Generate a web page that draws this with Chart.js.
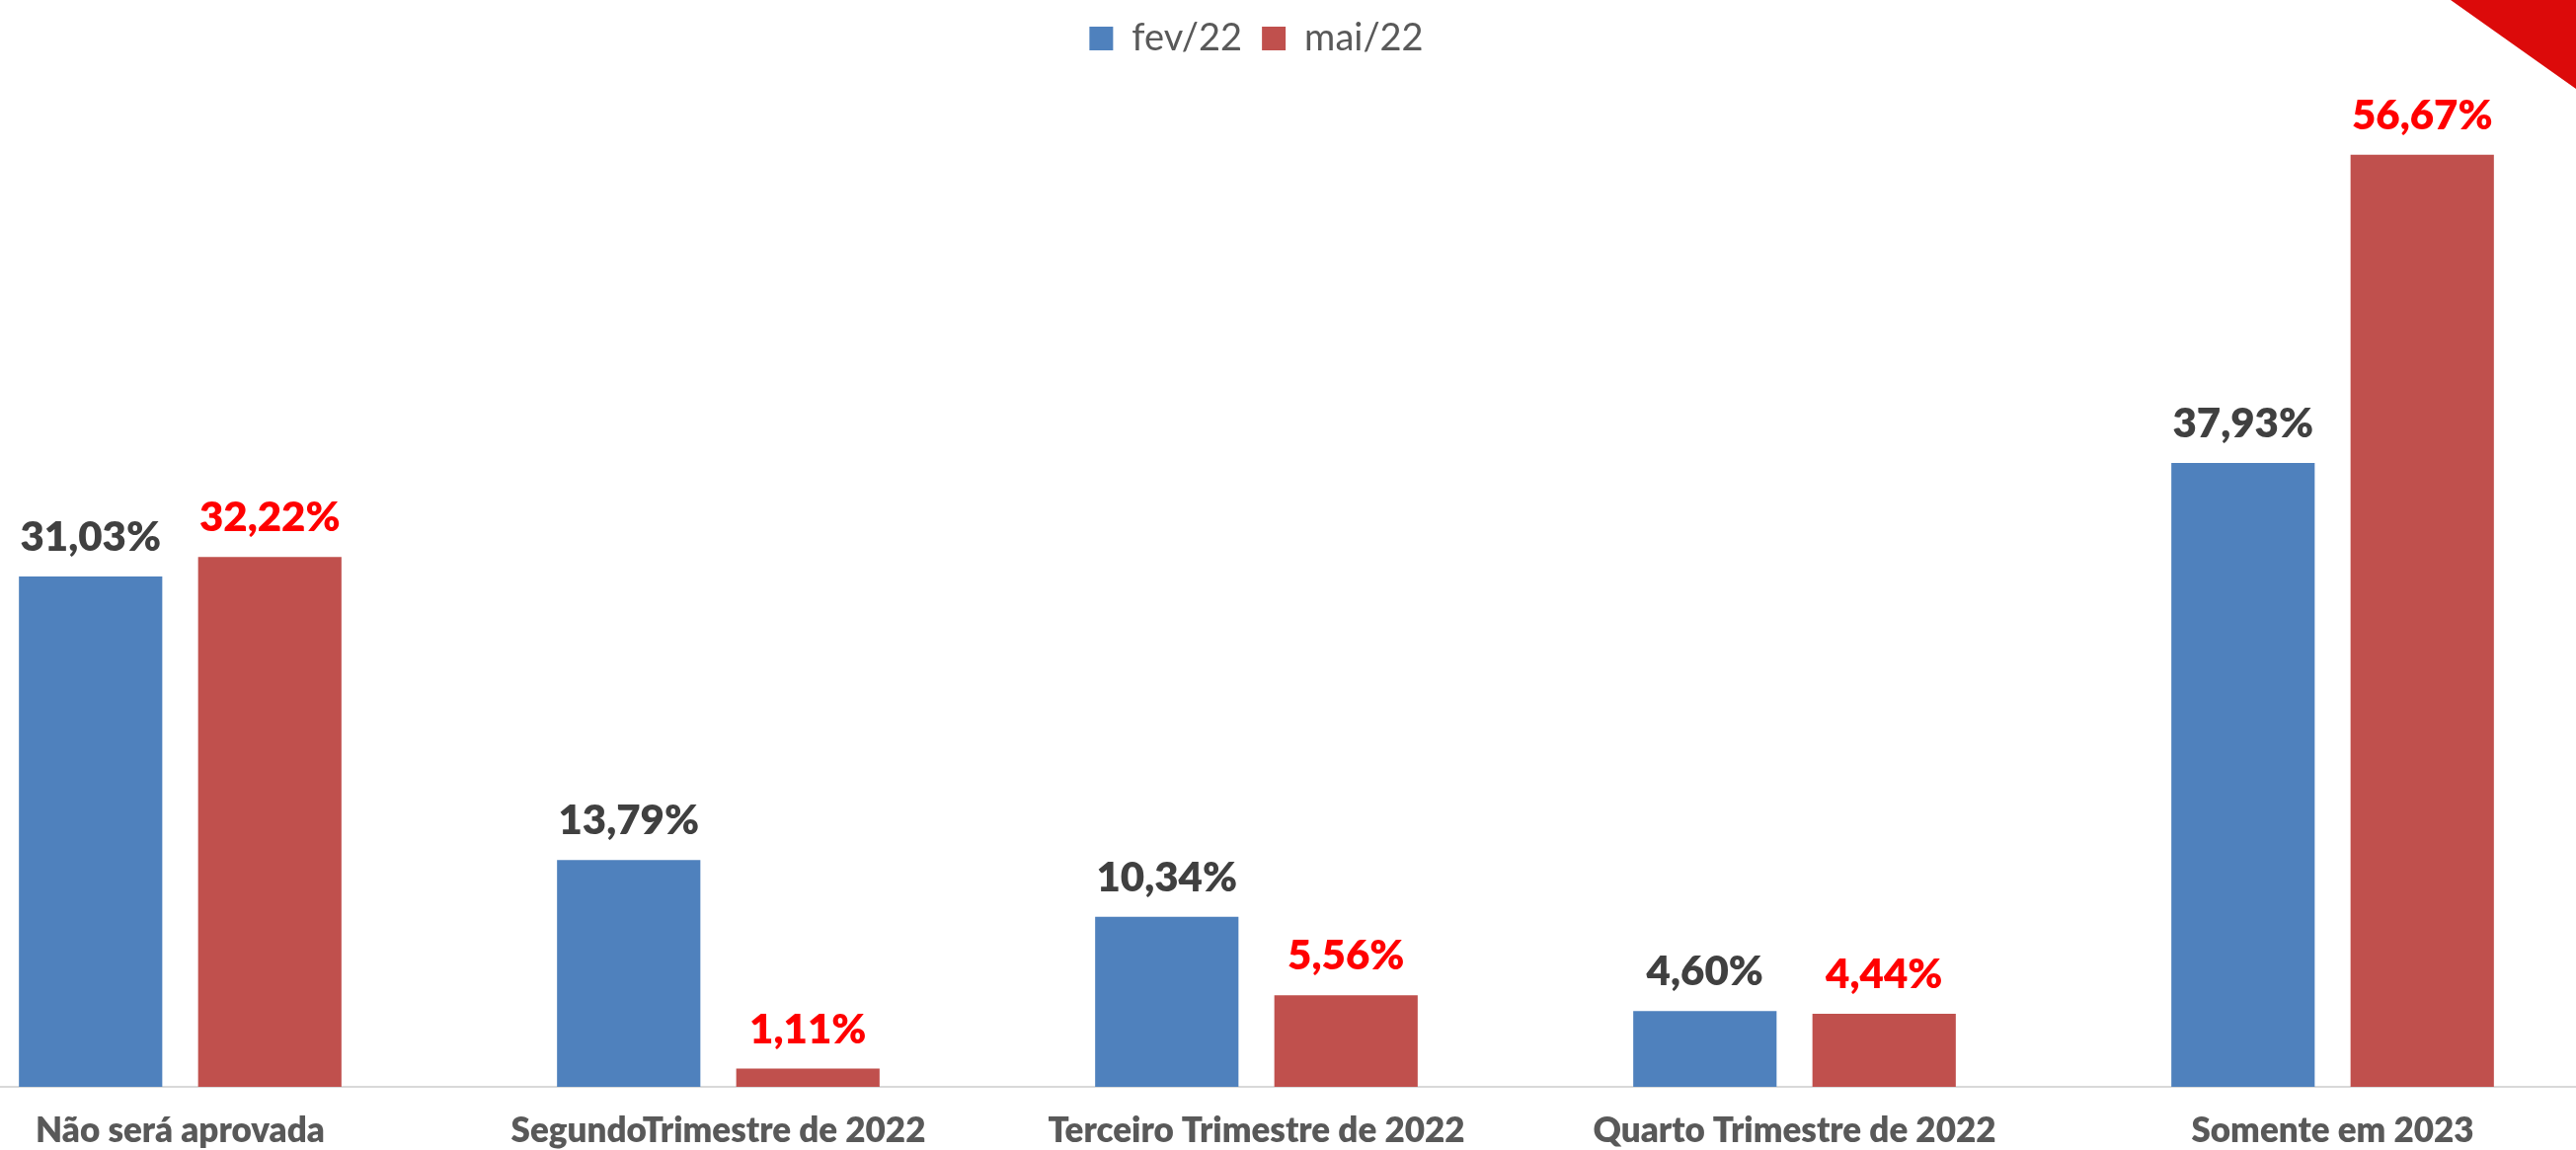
<!DOCTYPE html>
<html lang="pt-BR">
<head>
<meta charset="utf-8">
<title>fev/22 x mai/22</title>
<script src="https://cdn.jsdelivr.net/npm/chart.js"></script>
<style>
    html, body { margin: 0; padding: 0; background: #fff; overflow: hidden; }
    .stage { position: relative; width: 2609px; height: 1165px; overflow: hidden; }
    .chart-wrap { position: absolute; left: -90px; top: 0; width: 2725px; height: 1191px; }
    .corner { position: absolute; right: 0; top: 0; width: 127px; height: 90px; background: #dc0a0a;
        clip-path: polygon(0 0, 100% 0, 100% 100%); }
</style>
</head>
<body>
<div class="stage">
    <div class="chart-wrap"><canvas id="quarter_chart"></canvas></div>
    <div class="corner"></div>
</div>
<script>
const categories = ['Não será aprovada', 'SegundoTrimestre de 2022', 'Terceiro Trimestre de 2022', 'Quarto Trimestre de 2022', 'Somente em 2023']
const seriesNames = ['fev/22', 'mai/22']
const fevValues = [31.03, 13.79, 10.34, 4.60, 37.93]
const maiValues = [32.22, 1.11, 5.56, 4.44, 56.67]

const app = {
    variables: {
        ctx: document.getElementById('quarter_chart').getContext('2d'),
        chart: null,
        fontFamily: 'Lato, "Open Sans", sans-serif'
    },
    formatPercent: function (value){
        return value.toFixed(2).replace('.', ',') + '%'
    },
    // value labels above each bar, placed from the bar elements
    valueLabels: {
        id: 'valueLabels',
        afterDatasetsDraw: function (chart){
            const ctx = chart.ctx
            const colors = ['#404040', '#ff0000']
            ctx.save()
            ctx.font = '800 42px ' + app.variables.fontFamily
            ctx.textAlign = 'center'
            ctx.textBaseline = 'alphabetic'
            chart.data.datasets.forEach(function (ds, i){
                const meta = chart.getDatasetMeta(i)
                ctx.fillStyle = colors[i]
                meta.data.forEach(function (bar, j){
                    ctx.fillText(app.formatPercent(ds.data[j]), bar.x, bar.y - 26)
                })
            })
            ctx.restore()
        }
    },
    createChart: function (){
        app.variables.chart = new Chart(app.variables.ctx, {
            type: 'bar',
            data: {
                labels: categories,
                datasets: [{
                    label: seriesNames[0],
                    data: fevValues,
                    backgroundColor: '#4f81bd',
                    categoryPercentage: 0.666,
                    barPercentage: 0.8
                }, {
                    label: seriesNames[1],
                    data: maiValues,
                    backgroundColor: '#c0504d',
                    categoryPercentage: 0.666,
                    barPercentage: 0.8
                }]
            },
            options: {
                responsive: true,
                maintainAspectRatio: false,
                animation: false,
                layout: { padding: 0 },
                plugins: {
                    legend: {
                        position: 'top',
                        labels: {
                            boxWidth: 24,
                            boxHeight: 24,
                            padding: 20,
                            color: '#595959',
                            font: { family: app.variables.fontFamily, size: 38 }
                        }
                    },
                    tooltip: { enabled: false }
                },
                scales: {
                    x: {
                        grid: { display: false, drawTicks: false },
                        border: { display: true, color: '#d9d9d9', width: 2 },
                        ticks: {
                            autoSkip: false,
                            maxRotation: 0,
                            padding: 24,
                            color: '#595959',
                            font: { family: app.variables.fontFamily, size: 35, weight: '800' }
                        }
                    },
                    y: {
                        display: false,
                        min: 0,
                        max: 62
                    }
                }
            },
            plugins: [app.valueLabels]
        })
    },
    run: function (){
        app.createChart()
    }
}
app.run()
</script>
</body>
</html>
